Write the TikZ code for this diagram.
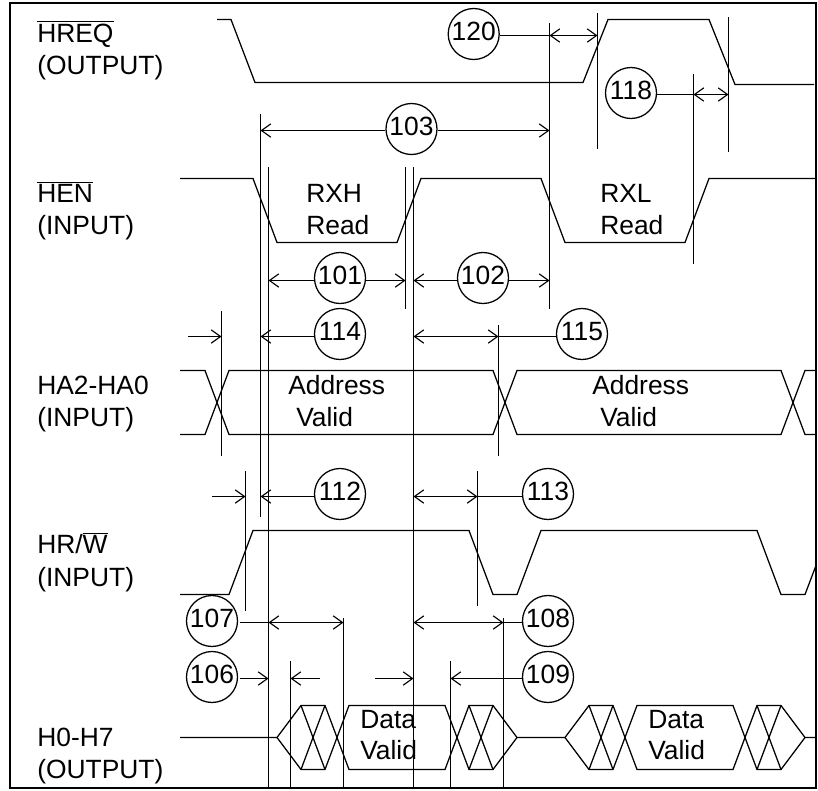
\documentclass[tikz,border=0pt]{standalone}
\usepackage{fontspec}
\setmainfont{Liberation Sans}
\usetikzlibrary{arrows.meta}
\tikzset{
  sig/.style={line width=0.95pt,line join=miter},
  guide/.style={line width=0.95pt},
  dim/.style={line width=0.95pt,arrows={Straight Barb[length=7pt,width=10pt,line width=0.85pt]-Straight Barb[length=7pt,width=10pt,line width=0.85pt]}},
  dimr/.style={line width=0.95pt,arrows={-Straight Barb[length=7pt,width=10pt,line width=0.85pt]}},
  plain/.style={line width=0.95pt},
  lab/.style={anchor=base west,inner sep=0pt,font=\fontsize{19.8}{24}\selectfont},
  num/.style={draw,circle,line width=0.95pt,inner sep=0pt,minimum size=38.25pt,text depth=4.5pt,fill=none,font=\fontsize{19.8}{24}\selectfont}
}
\newcommand{\ovl}[1]{$\overline{\hbox{#1}}$}
\begin{document}
\begin{tikzpicture}[x=0.75pt,y=-0.75pt]
\useasboundingbox (0,0) rectangle (818,790);
\draw[line width=1.7pt] (10,3) rectangle (816,788);
% labels
\node[lab] (l1) at (37,42) {\ovl{HREQ}};
\node[lab] (l2) at (37,74) {(OUTPUT)};
\node[lab] (l3) at (37,202) {\ovl{HEN}};
\node[lab] (l4) at (37,234) {(INPUT)};
\node[lab] (l5) at (37,394) {HA2-HA0};
\node[lab] (l6) at (37,426) {(INPUT)};
\node[lab] (l7) at (37,553) {HR/\ovl{W}};
\node[lab] (l8) at (37,586) {(INPUT)};
\node[lab] (l9) at (37,746) {H0-H7};
\node[lab] (l10) at (37,778) {(OUTPUT)};
\node[lab] (t1) at (306,202) {RXH};
\node[lab] (t2) at (306,234) {Read};
\node[lab] (t3) at (600,202) {RXL};
\node[lab] (t4) at (600,234) {Read};
\node[lab] (t5) at (288,394) {Address};
\node[lab] (t6) at (296,426) {Valid};
\node[lab] (t7) at (592,394) {Address};
\node[lab] (t8) at (600,426) {Valid};
\node[lab] (t9) at (360,728) {Data};
\node[lab] (t10) at (360,759) {Valid};
\node[lab] (t11) at (648,728) {Data};
\node[lab] (t12) at (648,759) {Valid};
% signals
\begin{scope}[yshift=-0.375pt]
\draw[sig] (217,19)--(231,19)--(255,82)--(583,82)--(608,19)--(709,19)--(735,84)--(814,84);
\draw[sig] (180,178)--(253,178)--(277,242)--(397,242)--(421,178)--(541,178)--(565,242)--(685,242)--(709,178)--(816,178);
\draw[sig] (180,370)--(205,370)--(229,434)--(493,434)--(517,370)--(781,370)--(805,434)--(816,434);
\draw[sig] (180,434)--(205,434)--(229,370)--(493,370)--(517,434)--(781,434)--(805,370)--(816,370);
\draw[sig] (180,594)--(229,594)--(253,530)--(469,530)--(493,594)--(517,594)--(541,530)--(757,530)--(781,594)--(805,594)--(816,565);
\draw[sig] (180,737)--(277,737)--(301,705)--(325,705)--(349,769)--(445,769)--(469,705)--(493,705)--(517,737)--(565,737)--(589,705)--(613,705)--(637,769)--(733,769)--(757,705)--(781,705)--(805,737)--(816,737);
\draw[sig] (277,737)--(301,769)--(325,769)--(349,705)--(445,705)--(469,769)--(493,769)--(517,737);
\draw[sig] (565,737)--(589,769)--(613,769)--(637,705)--(733,705)--(757,769)--(781,769)--(805,737);
\draw[sig] (301,705)--(325,769) (325,705)--(301,769);
\draw[sig] (469,705)--(493,769) (493,705)--(469,769);
\draw[sig] (589,705)--(613,769) (613,705)--(589,769);
\draw[sig] (757,705)--(781,769) (781,705)--(757,769);
\end{scope}
% circles
\node[num] (c120) at (473.7,34) {120};
\node[num] (c118) at (631,93) {118};
\node[num] (c103) at (411.5,129) {103};
\node[num] (c101) at (340,278) {101};
\node[num] (c102) at (483,278) {102};
\node[num] (c114) at (340,334) {114};
\node[num] (c115) at (582,334) {115};
\node[num] (c112) at (340,494) {112};
\node[num] (c113) at (548,494) {113};
\node[num] (c107) at (212,621) {107};
\node[num] (c108) at (548,621) {108};
\node[num] (c106) at (212,677) {106};
\node[num] (c109) at (548,677) {109};
% guide lines
\draw[guide] (597.5,13)--(597.5,149);
\draw[guide] (728.5,17)--(728.5,152);
\draw[guide] (549.5,23)--(549.5,309);
\draw[guide] (693.5,74)--(693.5,264);
\draw[guide] (260.5,114)--(260.5,517);
\draw[guide] (268.5,167)--(268.5,788);
\draw[guide] (405.5,167)--(405.5,309);
\draw[guide] (413.5,167)--(413.5,788);
\draw[guide] (221.5,311)--(221.5,456);
\draw[guide] (498.5,325)--(498.5,456);
\draw[guide] (245.5,471)--(245.5,611);
\draw[guide] (477.5,471)--(477.5,606);
\draw[guide] (343.5,618)--(343.5,788);
\draw[guide] (503.5,618)--(503.5,788);
\draw[guide] (290.5,661)--(290.5,788);
\draw[guide] (450.5,661)--(450.5,788);
% anchor points on guide lines
\coordinate (a120) at (549.5,35.5); \coordinate (b120) at (597.5,35.5);
\coordinate (a118) at (693.5,94.5); \coordinate (b118) at (728.5,94.5);
\coordinate (a103) at (260.5,130.5); \coordinate (b103) at (549.5,130.5);
\coordinate (a101) at (268.5,280.5); \coordinate (b101) at (405.5,280.5);
\coordinate (a102) at (413.5,280.5); \coordinate (b102) at (549.5,280.5);
\coordinate (a114) at (260.5,336.5); \coordinate (b114) at (221.5,336.5); \coordinate (f114) at (188,336.5);
\coordinate (a115) at (413.5,336.5); \coordinate (b115) at (498.5,336.5);
\coordinate (a112) at (260.5,496.5); \coordinate (b112) at (245.5,496.5); \coordinate (f112) at (212,496.5);
\coordinate (a113) at (413.5,496.5); \coordinate (b113) at (477.5,496.5);
\coordinate (a107) at (268.5,622.5); \coordinate (b107) at (343.5,622.5); \coordinate (f107) at (239.5,622.5);
\coordinate (a108) at (413.5,622.5); \coordinate (b108) at (503.5,622.5);
\coordinate (a106) at (268.5,678.5); \coordinate (f106) at (239.5,678.5);
\coordinate (b106) at (290.5,678.5); \coordinate (g106) at (320,678.5);
\coordinate (d106) at (413.5,678.5); \coordinate (e106) at (375,678.5);
\coordinate (a109) at (450.5,678.5);
% dimension arrows
\draw[plain] (c120.east |- a120)--(a120);
\draw[dim] (a120)--(b120);
\draw[plain] (c118.east |- a118)--(a118);
\draw[dim] (a118)--(b118);
\draw[dimr] (c103.west |- a103)--(a103);
\draw[dimr] (c103.east |- b103)--(b103);
\draw[dimr] (c101.west |- a101)--(a101);
\draw[dimr] (c101.east |- b101)--(b101);
\draw[dimr] (c102.west |- a102)--(a102);
\draw[dimr] (c102.east |- b102)--(b102);
\draw[dimr] (c114.west |- a114)--(a114);
\draw[dimr] (f114)--(b114);
\draw[dim] (a115)--(b115);
\draw[plain] (b115)--(c115.west |- b115);
\draw[dimr] (c112.west |- a112)--(a112);
\draw[dimr] (f112)--(b112);
\draw[dim] (a113)--(b113);
\draw[plain] (b113)--(c113.west |- b113);
\draw[plain] (f107)--(a107);
\draw[dim] (a107)--(b107);
\draw[dim] (a108)--(b108);
\draw[plain] (b108)--(c108.west |- b108);
\draw[dimr] (f106)--(a106);
\draw[dimr] (g106)--(b106);
\draw[dimr] (e106)--(d106);
\draw[dimr] (c109.west |- a109)--(a109);
\end{tikzpicture}
\end{document}
